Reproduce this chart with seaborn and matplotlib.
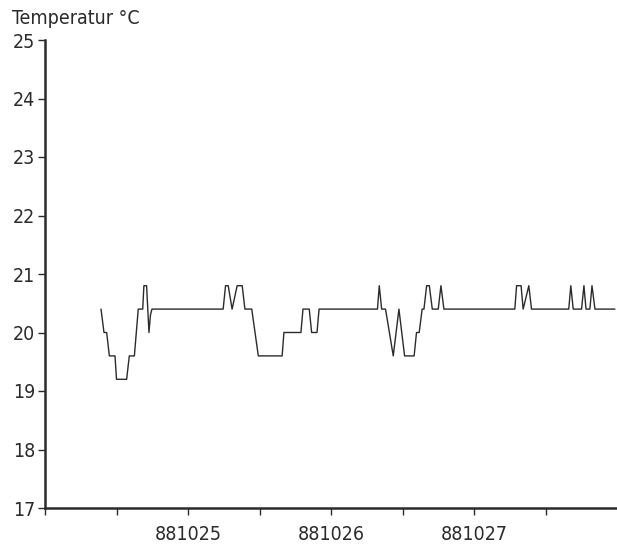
import matplotlib
matplotlib.use("Agg")
import matplotlib.pyplot as plt
import seaborn as sns
import pandas as pd

# Room temperature log, hours counted from 881024 00:00
hours = [9.4, 9.9, 10.35, 10.8, 11.75, 12.0, 13.7, 14.15, 15.0, 15.65, 16.4, 16.6,
         17.05, 17.45, 17.7, 17.95, 29.9, 30.3, 30.75, 31.4, 32.25, 33.1, 33.55,
         34.7, 35.8, 39.8, 40.1, 42.95, 43.3, 44.35, 44.75, 45.65, 46.0, 55.8,
         56.1, 56.5, 57.15, 58.45, 59.4, 60.35, 61.95, 62.35, 62.8, 63.3, 63.6,
         64.05, 64.5, 65.0, 66.0, 66.45, 66.95, 78.85, 79.15, 79.9, 80.25, 81.2,
         81.65, 87.9, 88.25, 88.65, 90.05, 90.45, 90.8, 91.45, 91.8, 92.3, 95.65]
temps = [20.4, 20.0, 20.0, 19.6, 19.6, 19.2, 19.2, 19.6, 19.6, 20.4, 20.4, 20.8,
         20.8, 20.0, 20.3, 20.4, 20.4, 20.8, 20.8, 20.4, 20.8, 20.8, 20.4,
         20.4, 19.6, 19.6, 20.0, 20.0, 20.4, 20.4, 20.0, 20.0, 20.4, 20.4,
         20.8, 20.4, 20.4, 19.6, 20.4, 19.6, 19.6, 20.0, 20.0, 20.4, 20.4,
         20.8, 20.8, 20.4, 20.4, 20.8, 20.4, 20.4, 20.8, 20.8, 20.4, 20.8,
         20.4, 20.4, 20.8, 20.4, 20.4, 20.8, 20.4, 20.4, 20.8, 20.4, 20.4]

x_ticks = [0, 12, 24, 36, 48, 60, 72, 84]
x_labels = ["", "", "881025", "", "881026", "", "881027", ""]
y_ticks = [17, 18, 19, 20, 21, 22, 23, 24, 25]

sns.set_style("ticks")
plt.rcParams["font.family"] = ["DejaVu Sans"]
plt.rcParams["font.stretch"] = "condensed"
plt.rcParams["font.weight"] = "light"
plt.rcParams["font.size"] = 14

ink = "#2b2b2b"
df = pd.DataFrame({"hours": hours, "temp": temps})

fig = plt.figure(figsize=(6.17, 5.45), dpi=100)
ax = fig.add_axes([45 / 617, 1 - 508 / 545, 1 - 45 / 617, (508 - 40) / 545])

sns.lineplot(data=df, x="hours", y="temp", estimator=None, sort=False,
             color=ink, linewidth=1.0, ax=ax)

ax.set_xlim(0, 96)
ax.set_ylim(17, 25)
ax.set_xticks(x_ticks)
ax.set_xticklabels(x_labels)
ax.set_yticks(y_ticks)
ax.set_xlabel("")
ax.set_ylabel("")
sns.despine(ax=ax)
for side in ("left", "bottom"):
    ax.spines[side].set_linewidth(1.8)
    ax.spines[side].set_color(ink)
ax.tick_params(axis="y", direction="out", length=5, width=1.0, pad=2,
               colors=ink, labelsize=14)
ax.tick_params(axis="x", direction="out", length=5, width=1.0, pad=7,
               colors=ink, labelsize=14)

fig.text(12 / 617, 1 - 24 / 545, "Temperatur °C", fontsize=14,
         va="baseline", ha="left", color=ink)

fig.savefig("out.png", dpi=100, facecolor="white")
